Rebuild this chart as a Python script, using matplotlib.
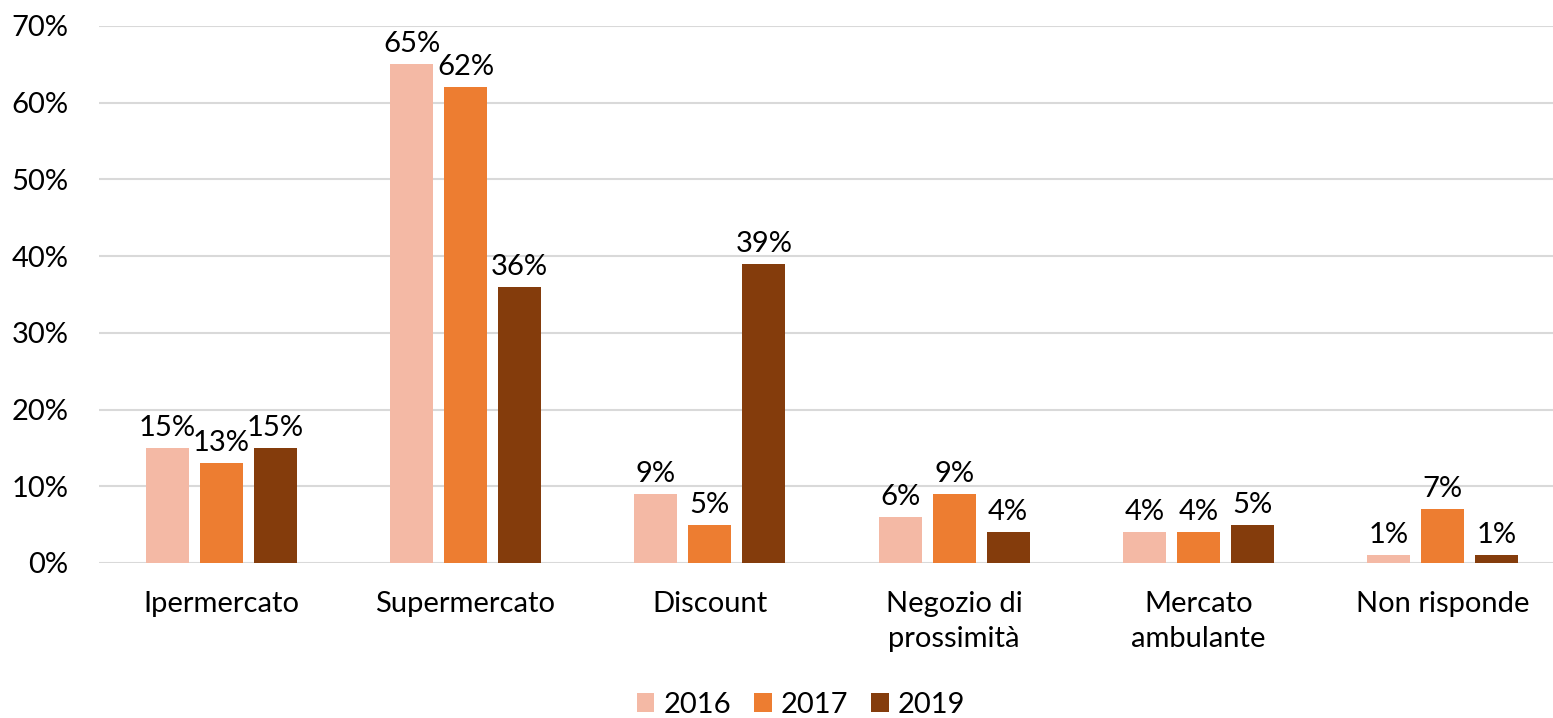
import matplotlib
matplotlib.use("Agg")
import matplotlib.pyplot as plt
import numpy as np

categories = ["Ipermercato", "Supermercato", "Discount", "Negozio di\nprossimità", "Mercato\nambulante", "Non risponde"]
years = ["2016", "2017", "2019"]
v2016 = [15, 65, 9, 6, 4, 1]
v2017 = [13, 62, 5, 9, 4, 7]
v2019 = [15, 36, 39, 4, 5, 1]
yticks = [0, 10, 20, 30, 40, 50, 60, 70]
colors = ["#F4B9A5", "#ED7D31", "#843C0C"]

plt.rcParams['font.family'] = ['Lato', 'DejaVu Sans']
FS = 21

fig = plt.figure(figsize=(15.53, 7.18), dpi=100)
# axis spans past right figure edge like the reference
ax = fig.add_axes([99 / 1553, 0.2159, 1466 / 1553, 0.7479])

x = np.arange(len(categories))
w = 0.176
step = 0.221
series = [v2016, v2017, v2019]
for i, (vals, c, yr) in enumerate(zip(series, colors, years)):
    pos = x + (i - 1) * step
    ax.bar(pos, vals, width=w, color=c, label=yr, zorder=3)
    for p, v in zip(pos, vals):
        ax.annotate(f"{v}%", (p, v), xytext=(0, 5), textcoords="offset points",
                    ha="center", va="bottom", fontsize=FS, color="#000000")

ax.set_xlim(-0.5, len(categories) - 0.5)
ax.set_ylim(0, 70)
ax.set_yticks(yticks)
ax.set_yticklabels([f"{t}%" for t in yticks], fontsize=FS)
ax.set_xticks(x)
ax.set_xticklabels(categories, fontsize=FS, linespacing=1.45, va="top")
ax.tick_params(axis="both", length=0)
ax.tick_params(axis="x", pad=20)
ax.tick_params(axis="y", pad=22)
for s in ax.spines.values():
    s.set_visible(False)
ax.yaxis.grid(True, color="#D9D9D9", linewidth=1.5, zorder=0)
ax.set_axisbelow(True)

leg = fig.legend(*ax.get_legend_handles_labels(), loc="center", bbox_to_anchor=(801 / 1553, 1 - 705 / 718),
                 ncol=3, frameon=False, fontsize=FS, handlelength=0.6, handleheight=0.6,
                 handletextpad=0.3, columnspacing=0.8)

fig.savefig("out.png", dpi=100)
